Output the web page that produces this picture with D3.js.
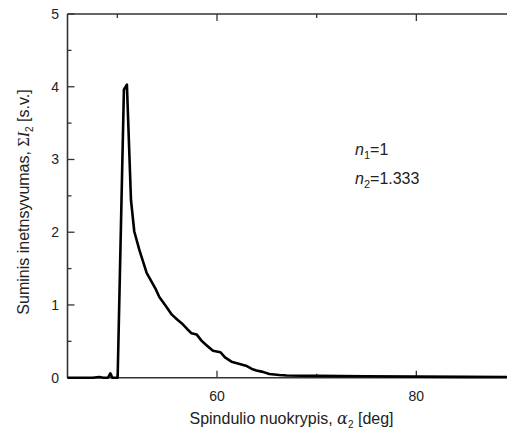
<!DOCTYPE html>
<html>
<head>
<meta charset="utf-8">
<script src="https://cdn.jsdelivr.net/npm/d3@7"></script>
<style>
  body { margin: 0; background: #fff; }
  svg { display: block; font-family: "Liberation Sans", Arial, sans-serif; }
</style>
</head>
<body>
<div id="chart"></div>
<script>
// angle of deflection (deg) and summed intensity (a.u.)
const alpha = [45, 47.5, 48.2, 48.6, 49.06, 49.3, 49.5, 50.03, 50.66, 50.96, 51.37, 51.7, 52.2, 52.94,
  53.88, 54.21, 54.9, 55.45, 56.0, 56.45, 57.0, 57.45, 57.95, 58.5, 59.0, 59.6, 60.35, 60.8, 61.45,
  62.0, 62.9, 63.5, 63.95, 64.6, 65.25, 66.25, 67.0, 70, 75, 80, 85, 90];
const intensity = [0, 0, 0.01, 0, 0, 0.06, 0, 0, 3.96, 4.03, 2.44, 2.01, 1.76, 1.44,
  1.21, 1.11, 0.98, 0.87, 0.8, 0.75, 0.67, 0.61, 0.595, 0.5, 0.44, 0.37, 0.35, 0.28, 0.22,
  0.2, 0.165, 0.12, 0.1, 0.08, 0.05, 0.037, 0.03, 0.025, 0.02, 0.015, 0.012, 0.01];
const xMajor = [60, 80];
const xMinor = [50, 70, 90];
const yMajor = [0, 1, 2, 3, 4, 5];
const yMinor = [0.5, 1.5, 2.5, 3.5, 4.5];

const W = 507, H = 432;
const m = { left: 67.5, top: 14, bottom: 377.7 };
const x = d3.scaleLinear().domain([45, 90]).range([m.left, m.left + 45 * 9.967]);
const y = d3.scaleLinear().domain([0, 5]).range([m.bottom, m.top]);

const svg = d3.select('#chart').append('svg').attr('width', W).attr('height', H);
const axisCol = '#333';

// frame (left, bottom, top; right side falls outside the window)
const frame = svg.append('g').attr('stroke', axisCol).attr('stroke-width', 1.6).attr('fill', 'none');
frame.append('line').attr('x1', x(45)).attr('x2', x(90)).attr('y1', y(0)).attr('y2', y(0));
frame.append('line').attr('x1', x(45)).attr('x2', x(90)).attr('y1', y(5)).attr('y2', y(5));
frame.append('line').attr('x1', x(45)).attr('x2', x(45)).attr('y1', y(0)).attr('y2', y(5));
frame.append('line').attr('x1', x(90)).attr('x2', x(90)).attr('y1', y(0)).attr('y2', y(5));

// inward ticks
const ticks = svg.append('g').attr('stroke', axisCol).attr('stroke-width', 1.3);
xMajor.forEach(v => {
  ticks.append('line').attr('x1', x(v)).attr('x2', x(v)).attr('y1', y(0)).attr('y2', y(0) - 7);
  ticks.append('line').attr('x1', x(v)).attr('x2', x(v)).attr('y1', y(5)).attr('y2', y(5) + 7);
});
xMinor.forEach(v => {
  ticks.append('line').attr('x1', x(v)).attr('x2', x(v)).attr('y1', y(0)).attr('y2', y(0) - 4);
  ticks.append('line').attr('x1', x(v)).attr('x2', x(v)).attr('y1', y(5)).attr('y2', y(5) + 4);
});
yMajor.forEach(v => {
  ticks.append('line').attr('x1', x(45)).attr('x2', x(45) + 7).attr('y1', y(v)).attr('y2', y(v));
});
yMinor.forEach(v => {
  ticks.append('line').attr('x1', x(45)).attr('x2', x(45) + 4).attr('y1', y(v)).attr('y2', y(v));
});

// tick labels
svg.append('g').selectAll('text').data(xMajor).join('text')
  .attr('x', d => x(d)).attr('y', 401).attr('text-anchor', 'middle')
  .style('font-size', '14px').attr('fill', '#222').text(d => d);
svg.append('g').selectAll('text').data(yMajor).join('text')
  .attr('x', 59).attr('y', d => y(d) + 5).attr('text-anchor', 'end')
  .style('font-size', '14px').attr('fill', '#222').text(d => d);

// curve
const line = d3.line().x((d, i) => x(alpha[i])).y((d, i) => y(intensity[i]));
svg.append('path').datum(alpha).attr('d', line)
  .attr('fill', 'none').attr('stroke', '#000').attr('stroke-width', 2.6)
  .attr('stroke-linejoin', 'round');

// axis titles
const xt = svg.append('text').attr('x', 291.5).attr('y', 424).attr('text-anchor', 'middle')
  .style('font-size', '16px').attr('fill', '#222');
xt.append('tspan').text('Spindulio nuokrypis, ');
xt.append('tspan').attr('font-family', 'DejaVu Serif, serif').attr('font-style', 'italic').text('α');
xt.append('tspan').attr('dy', 4).style('font-size', '10px').text('2');
xt.append('tspan').attr('dy', -4).text(' [deg]');

const yt = svg.append('text').attr('transform', 'translate(29,202) rotate(-90)')
  .attr('text-anchor', 'middle').style('font-size', '16px').attr('fill', '#222');
yt.append('tspan').text('Suminis inetnsyvumas, ');
yt.append('tspan').attr('font-family', 'Liberation Serif, serif').text('Σ');
yt.append('tspan').attr('font-family', 'Liberation Serif, serif').attr('font-style', 'italic').text('I');
yt.append('tspan').attr('dy', 4).style('font-size', '10px').text('2');
yt.append('tspan').attr('dy', -4).text(' [s.v.]');

// refractive indices
[['1', '=1', 155], ['2', '=1.333', 184]].forEach(([sub, val, yy]) => {
  const t = svg.append('text').attr('x', 355).attr('y', yy).style('font-size', '16px').attr('fill', '#222');
  t.append('tspan').attr('font-style', 'italic').text('n');
  t.append('tspan').attr('dy', 4).style('font-size', '11px').text(sub);
  t.append('tspan').attr('dy', -4).text(val);
});
</script>
</body>
</html>
